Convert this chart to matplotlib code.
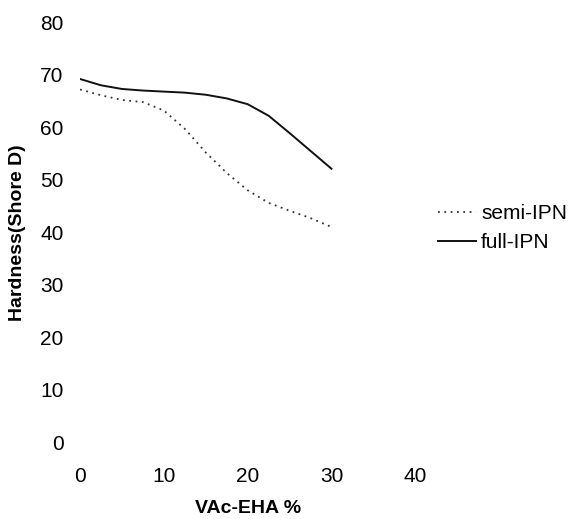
import matplotlib
matplotlib.use("Agg")
import matplotlib.pyplot as plt

plt.rcParams["font.family"] = ["Liberation Sans", "DejaVu Sans"]

# values
vac_eha = [0, 2.5, 5, 7.5, 10, 12.5, 15, 17.5, 20, 22.5, 25, 27.5, 30]
semi_ipn = [67.2, 66.1, 65.2, 64.8, 63.2, 59.7, 55.2, 51.3, 48.0, 45.6, 44.1, 42.7, 41.0]
full_ipn = [69.2, 68.0, 67.3, 67.0, 66.8, 66.6, 66.2, 65.5, 64.4, 62.2, 58.9, 55.5, 52.1]

x_ticks = [0, 10, 20, 30, 40]
y_ticks = [0, 10, 20, 30, 40, 50, 60, 70, 80]

fig = plt.figure(figsize=(5.76, 5.19), dpi=100)
# 0 -> x=80px, 40 -> x=415px ; 0 -> y=442px, 80 -> y=22px
ax = fig.add_axes([0.139, 0.148, 0.582, 0.809])

ax.plot(vac_eha, semi_ipn, color="#333333", lw=1.3, ls=(0, (1, 2.5)), label="semi-IPN")
ax.plot(vac_eha, full_ipn, color="#111111", lw=1.4, label="full-IPN")

ax.set_xlim(0, 40)
ax.set_ylim(0, 80)
ax.set_xticks(x_ticks)
ax.set_yticks(y_ticks)
ax.tick_params(length=0, labelsize=15)
ax.tick_params(axis="y", pad=12)
ax.tick_params(axis="x", pad=18)
for side in ax.spines.values():
    side.set_visible(False)

ax.set_xlabel("VAc-EHA %", fontsize=14, fontweight="bold", labelpad=10)
ax.set_ylabel("Hardness(Shore D)", fontsize=14, fontweight="bold", labelpad=10)

ax.legend(loc="center left", bbox_to_anchor=(1.069, 0.51), frameon=False,
          fontsize=15, handlelength=1.8, handletextpad=0.25, labelspacing=0.5,
          borderpad=0, borderaxespad=0)

fig.savefig("out.png", dpi=100)
